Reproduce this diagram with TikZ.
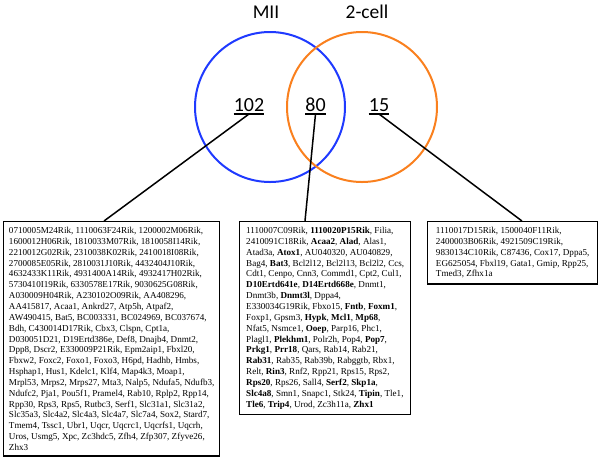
\documentclass[tikz,border=0pt]{standalone}
\usepackage{fontspec}
\setmainfont{Liberation Serif}
\newfontfamily\calfont{Carlito}
\definecolor{mblue}{RGB}{31,58,255}
\definecolor{morange}{RGB}{250,128,30}
\begin{document}
\begin{tikzpicture}[x=1pt,y=-1pt,
 venn/.style={line width=2pt},
 lab/.style={font=\calfont\fontsize{19.5}{22}\selectfont, inner sep=0, anchor=base},
 num/.style={font=\calfont\fontsize{20}{22}\selectfont, inner sep=0, anchor=base},
 ul/.style={line width=1.3pt},
 conn/.style={line width=1.5pt},
 genebox/.style={draw, line width=1.4pt, anchor=north west, align=left, inner xsep=3pt, inner ysep=5.5pt, font=\fontsize{9.1}{10.85}\selectfont}]
\useasboundingbox (0,0) rectangle (600,459);
\fill[white] (0,0) rectangle (600,459);
\draw[venn, mblue] (270,107) circle[radius=75pt];
\draw[venn, morange] (362,107) circle[radius=75pt];
\node[lab] (mii) at (266,18) {MII};
\node[lab] (two) at (367,18) {2-cell};
\node[num] (n102) at (249,111) {102};
\node[num] (n80) at (315.5,111) {80};
\node[num] (n15) at (379,111) {15};
\foreach \n in {n102,n80,n15}
  \draw[ul] ([yshift=-3pt]\n.base west) -- ([yshift=-3pt]\n.base east);
\node[genebox, minimum width=216pt] (lbox) at (3,221) {0710005M24Rik, 1110063F24Rik, 1200002M06Rik,\\
1600012H06Rik, 1810033M07Rik, 1810058I14Rik,\\
2210012G02Rik, 2310038K02Rik, 2410018I08Rik,\\
2700085E05Rik, 2810031J10Rik, 4432404J10Rik,\\
4632433K11Rik, 4931400A14Rik, 4932417H02Rik,\\
5730410I19Rik, 6330578E17Rik, 9030625G08Rik,\\
A030009H04Rik, A230102O09Rik, AA408296,\\
AA415817, Acaa1, Ankrd27, Atp5h, Atpaf2,\\
AW490415, Bat5, BC003331, BC024969, BC037674,\\
Bdh, C430014D17Rik, Cbx3, Clspn, Cpt1a,\\
D030051D21, D19Ertd386e, Def8, Dnajb4, Dnmt2,\\
Dpp8, Dscr2, E330009P21Rik, Epm2aip1, Fbxl20,\\
Fbxw2, Foxc2, Foxo1, Foxo3, H6pd, Hadhb, Hmbs,\\
Hsphap1, Hus1, Kdelc1, Klf4, Map4k3, Moap1,\\
Mrpl53, Mrps2, Mrps27, Mta3, Nalp5, Ndufa5, Ndufb3,\\
Ndufc2, Pja1, Pou5f1, Pramel4, Rab10, Rplp2, Rpp14,\\
Rpp30, Rps3, Rps5, Rutbc3, Serf1, Slc31a1, Slc31a2,\\
Slc35a3, Slc4a2, Slc4a3, Slc4a7, Slc7a4, Sox2, Stard7,\\
Tmem4, Tssc1, Ubr1, Uqcr, Uqcrc1, Uqcrfs1, Uqcrh,\\
Uros, Usmg5, Xpc, Zc3hdc5, Zfh4, Zfp307, Zfyve26,\\
Zhx3};
\node[genebox, minimum width=171pt] (mbox) at (239,221) {1110007C09Rik, \textbf{1110020P15Rik}, Filia,\\
2410091C18Rik, \textbf{Acaa2}, \textbf{Alad}, Alas1,\\
Atad3a, \textbf{Atox1}, AU040320, AU040829,\\
Bag4, \textbf{Bat3}, Bcl2l12, Bcl2l13, Bcl2l2, Ccs,\\
Cdt1, Cenpo, Cnn3, Commd1, Cpt2, Cul1,\\
\textbf{D10Ertd641e}, \textbf{D14Ertd668e}, Dnmt1,\\
Dnmt3b, \textbf{Dnmt3l}, Dppa4,\\
E330034G19Rik, Fbxo15, \textbf{Fntb}, \textbf{Foxm1},\\
Foxp1, Gpsm3, \textbf{Hypk}, \textbf{Mcl1}, \textbf{Mp68},\\
Nfat5, Nsmce1, \textbf{Ooep}, Parp16, Phc1,\\
Plagl1, \textbf{Plekhm1}, Polr2h, Pop4, \textbf{Pop7},\\
\textbf{Prkg1}, \textbf{Prr18}, Qars, Rab14, Rab21,\\
\textbf{Rab31}, Rab35, Rab39b, Rabggtb, Rbx1,\\
Relt, \textbf{Rin3}, Rnf2, Rpp21, Rps15, Rps2,\\
\textbf{Rps20}, Rps26, Sall4, \textbf{Serf2}, \textbf{Skp1a},\\
\textbf{Slc4a8}, Smn1, Snapc1, Stk24, \textbf{Tipin}, Tle1,\\
\textbf{Tle6}, \textbf{Trip4}, Urod, Zc3h11a, \textbf{Zhx1}};
\node[genebox, minimum width=170pt] (rbox) at (427,221) {1110017D15Rik, 1500040F11Rik,\\
2400003B06Rik, 4921509C19Rik,\\
9830134C10Rik, C87436, Cox17, Dppa5,\\
EG625054, Fbxl19, Gata1, Gmip, Rpp25,\\
Tmed3, Zfhx1a};
\draw[conn] ([yshift=-3pt]n102.base) -- ([xshift=101pt]lbox.north west);
\draw[conn] ([yshift=-3pt]n80.base) -- ([xshift=66pt]mbox.north west);
\draw[conn] ([yshift=-3pt]n15.base) -- ([xshift=95pt]rbox.north west);
\end{tikzpicture}
\end{document}
